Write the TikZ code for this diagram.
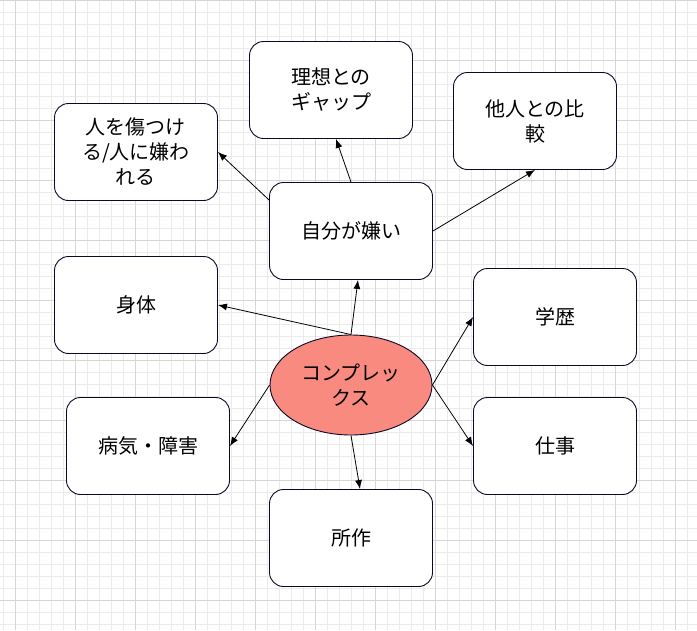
\documentclass[tikz,border=0pt]{standalone}
\usepackage{fontspec}
\setmainfont{Noto Sans CJK JP}
\usetikzlibrary{shapes.geometric,arrows.meta}
\definecolor{navy}{RGB}{10,10,40}
\definecolor{salmon}{RGB}{248,138,128}
\begin{document}
\begin{tikzpicture}[x=1pt,y=-1pt,>={Latex[length=9pt,width=7pt]},
  box/.style={rectangle,rounded corners=14pt,draw=navy,line width=0.9pt,fill=white,minimum width=163pt,minimum height=97pt,align=center,font=\fontsize{20}{25}\selectfont},
  core/.style={ellipse,draw=navy,line width=0.9pt,fill=salmon,minimum width=162pt,minimum height=100pt,align=center,font=\fontsize{20}{25}\selectfont},
  link/.style={->,line width=0.8pt,black}]
  \useasboundingbox (0,0) rectangle (697,630);
  \fill[white] (0,0) rectangle (697,630);
  \foreach \x in {3,15,...,697} \draw[black!8] (\x,0) -- (\x,630);
  \foreach \y in {0,12,...,630} \draw[black!8] (0,\y) -- (697,\y);
  \foreach \x in {15,75,...,697} \draw[black!16] (\x,0) -- (\x,630);
  \foreach \y in {0,60,...,630} \draw[black!16] (0,\y) -- (697,\y);
  \begin{scope}[every node/.style={box}]
    \node (ideal) at (331,90) {理想との\\ギャップ};
    \node (others) at (535,121) {他人との比\\較};
    \node (hurt) at (136,152) {人を傷つけ\\る/人に嫌わ\\れる};
    \node (self) at (351,231) {自分が嫌い};
    \node (body) at (136,305) {身体};
    \node (school) at (555,317) {学歴};
    \node (ill) at (148,446) {病気・障害};
    \node (work) at (555,446) {仕事};
    \node (manner) at (351,538) {所作};
  \end{scope}
  \node[core] (cx) at (351,385) {コンプレッ\\クス};
  \draw[link] (cx.north) -- (self.south -| 358,0);
  \draw[link] (cx.north) -- (body.east);
  \draw[link] (cx.west) -- (ill.east);
  \draw[link] (cx.south) -- (manner.north -| 360,0);
  \draw[link] (cx.east) -- (school.west);
  \draw[link] (cx.east) -- (work.west);
  \draw[link] (self.north) -- (ideal.south -| 336,0);
  \draw[link] (self.west |- 0,200) -- (hurt.east);
  \draw[link] (self.east) -- (others.south);
\end{tikzpicture}
\end{document}
